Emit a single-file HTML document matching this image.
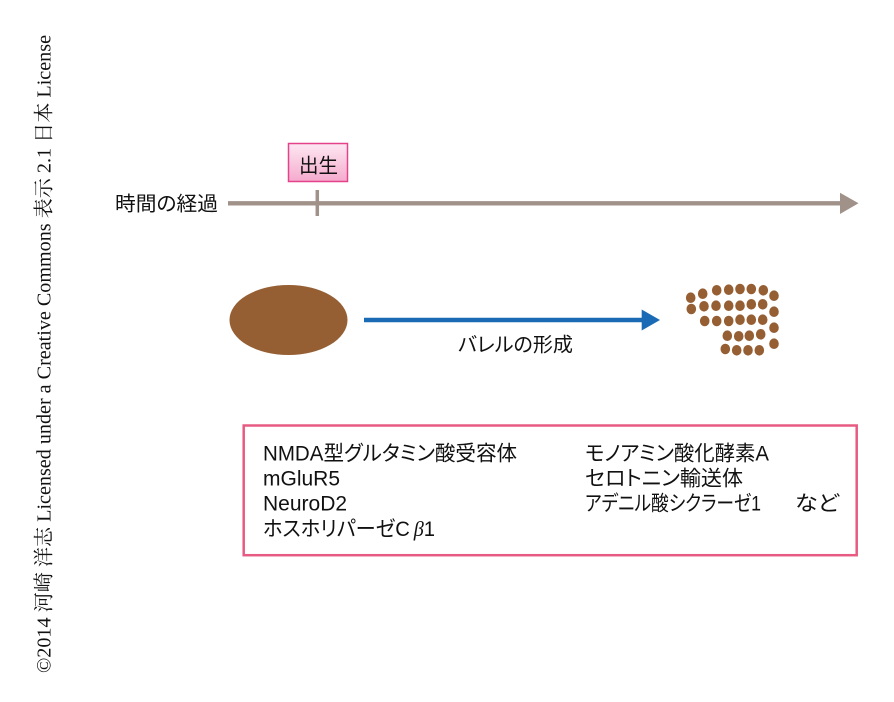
<!DOCTYPE html>
<html>
<head>
<meta charset="utf-8">
<style>
html,body{margin:0;padding:0;background:#fff;}
body{width:894px;height:702px;overflow:hidden;}
svg{display:block;}
.j{font-family:"Liberation Sans","Noto Sans CJK JP",sans-serif;font-feature-settings:"palt";}
</style>
</head>
<body>
<svg width="894" height="702" viewBox="0 0 894 702" xmlns="http://www.w3.org/2000/svg">
<defs>
<linearGradient id="pg" x1="0" y1="0" x2="0" y2="1">
<stop offset="0" stop-color="#fde8f2"/>
<stop offset="1" stop-color="#f5aacd"/>
</linearGradient>
</defs>

<!-- copyright -->
<text transform="translate(50.5,673) rotate(-90)" x="0" y="0" font-family="'Liberation Serif','Noto Serif CJK SC',serif" font-size="20" fill="#111" textLength="638" lengthAdjust="spacingAndGlyphs">©2014 河崎 洋志 Licensed under a Creative Commons 表示 2.1 日本 License</text>

<!-- timeline -->
<text class="j" x="115" y="210.5" font-size="20" fill="#111" textLength="103" lengthAdjust="spacingAndGlyphs">時間の経過</text>
<line x1="228" y1="203.3" x2="842" y2="203.3" stroke="#a09189" stroke-width="4.3"/>
<polygon points="840,192.7 858.5,203.3 840,214" fill="#a09189"/>
<line x1="317.3" y1="190" x2="317.3" y2="216" stroke="#a09189" stroke-width="3.5"/>

<!-- birth box -->
<rect x="288.5" y="143.5" width="59" height="38" fill="url(#pg)" stroke="#e4428a" stroke-width="1.5"/>
<text class="j" x="299" y="172.6" font-size="20" fill="#111" textLength="39" lengthAdjust="spacingAndGlyphs">出生</text>

<!-- big ellipse -->
<ellipse cx="288.5" cy="320" rx="59" ry="35" fill="#955f33"/>

<!-- blue arrow -->
<line x1="364" y1="320" x2="644" y2="320" stroke="#1b6ab5" stroke-width="4.5"/>
<polygon points="641.7,309.5 660,320 641.7,330.5" fill="#1b6ab5"/>
<text class="j" x="458" y="351.6" font-size="20" fill="#111" textLength="115" lengthAdjust="spacingAndGlyphs">バレルの形成</text>

<!-- barrel dots -->
<g fill="#955f33">
<ellipse cx="690.7" cy="297.7" rx="4.8" ry="5.3"/>
<ellipse cx="702.7" cy="293.7" rx="4.8" ry="5.3"/>
<ellipse cx="716.7" cy="290.3" rx="4.8" ry="5.3"/>
<ellipse cx="728.7" cy="289.7" rx="4.8" ry="5.3"/>
<ellipse cx="740" cy="289" rx="4.8" ry="5.3"/>
<ellipse cx="751.3" cy="289" rx="4.8" ry="5.3"/>
<ellipse cx="763.3" cy="290.3" rx="4.8" ry="5.3"/>
<ellipse cx="774" cy="295.7" rx="4.8" ry="5.3"/>

<ellipse cx="691.3" cy="309" rx="4.8" ry="5.3"/>
<ellipse cx="704" cy="306.3" rx="4.8" ry="5.3"/>
<ellipse cx="716" cy="305.7" rx="4.8" ry="5.3"/>
<ellipse cx="728.7" cy="305.7" rx="4.8" ry="5.3"/>
<ellipse cx="740" cy="305.7" rx="4.8" ry="5.3"/>
<ellipse cx="751.3" cy="304.3" rx="4.8" ry="5.3"/>
<ellipse cx="762.7" cy="304.3" rx="4.8" ry="5.3"/>
<ellipse cx="774" cy="311.7" rx="4.8" ry="5.3"/>

<ellipse cx="704.7" cy="321" rx="4.8" ry="5.3"/>
<ellipse cx="716.7" cy="321" rx="4.8" ry="5.3"/>
<ellipse cx="728.7" cy="321" rx="4.8" ry="5.3"/>
<ellipse cx="740" cy="319.7" rx="4.8" ry="5.3"/>
<ellipse cx="751.3" cy="319.7" rx="4.8" ry="5.3"/>
<ellipse cx="762.7" cy="319.7" rx="4.8" ry="5.3"/>
<ellipse cx="774" cy="327.7" rx="4.8" ry="5.3"/>

<ellipse cx="727.3" cy="335.7" rx="4.8" ry="5.3"/>
<ellipse cx="738.7" cy="336.3" rx="4.8" ry="5.3"/>
<ellipse cx="749.3" cy="335.7" rx="4.8" ry="5.3"/>
<ellipse cx="760.7" cy="334.3" rx="4.8" ry="5.3"/>
<ellipse cx="774" cy="343.7" rx="4.8" ry="5.3"/>

<ellipse cx="725.3" cy="349" rx="4.8" ry="5.3"/>
<ellipse cx="736.7" cy="350.3" rx="4.8" ry="5.3"/>
<ellipse cx="748" cy="350.3" rx="4.8" ry="5.3"/>
<ellipse cx="759.3" cy="350.3" rx="4.8" ry="5.3"/>
</g>

<!-- pink box -->
<rect x="243.7" y="425.5" width="613" height="129.7" fill="#fff" stroke="#e75b82" stroke-width="2.5"/>

<g class="j" font-size="21" fill="#111">
<text x="263" y="460.7" textLength="254" lengthAdjust="spacingAndGlyphs">NMDA型グルタミン酸受容体</text>
<text x="263" y="485.7">mGluR5</text>
<text x="263" y="510.7">NeuroD2</text>
<text x="263" y="536" textLength="172" lengthAdjust="spacingAndGlyphs">ホスホリパーゼC<tspan dx="4" font-family="'Liberation Serif',serif" font-style="italic">β</tspan>1</text>

<text x="585" y="460.7" textLength="184" lengthAdjust="spacingAndGlyphs">モノアミン酸化酵素A</text>
<text x="585" y="485.7" textLength="158" lengthAdjust="spacingAndGlyphs">セロトニン輸送体</text>
<text x="585" y="510.7" textLength="176" lengthAdjust="spacingAndGlyphs">アデニル酸シクラーゼ1</text>
<text x="795" y="510.7" textLength="44" lengthAdjust="spacingAndGlyphs">など</text>
</g>
</svg>
</body>
</html>
